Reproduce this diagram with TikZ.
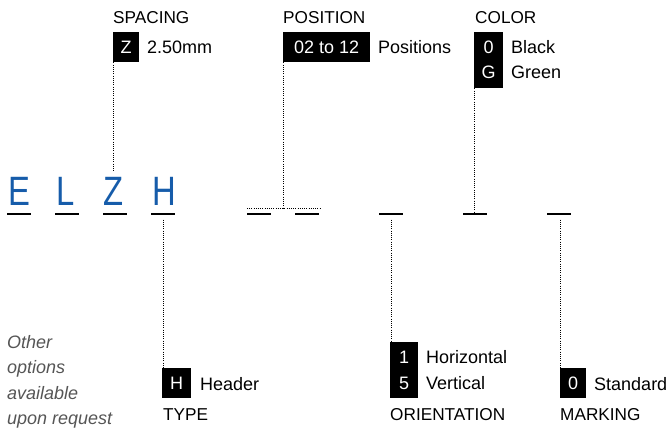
\documentclass[tikz,border=0pt]{standalone}
\usepackage{fontspec}
\setmainfont{Liberation Sans}
\newfontfamily\bigfont[FakeStretch=0.8]{Liberation Sans}
\definecolor{codeblue}{RGB}{22,92,170}
\definecolor{notegray}{RGB}{85,85,85}
\begin{document}
\begin{tikzpicture}[x=1pt,y=-1pt,
  txt/.style={anchor=base west, inner sep=0pt, font=\fontsize{18}{21}\selectfont},
  captxt/.style={anchor=base west, inner sep=0pt, font=\fontsize{17.2}{21}\selectfont},
  note/.style={txt, text=notegray, font=\fontsize{18}{21}\selectfont\itshape},
  code/.style={fill=black, text=white, inner sep=0pt, anchor=north west, font=\fontsize{18}{21}\selectfont},
  codetxt/.style={anchor=base, inner sep=0pt, text=white, font=\fontsize{18}{21}\selectfont},
  big/.style={anchor=base west, inner sep=0pt, text=codeblue, font=\bigfont\fontsize{41}{44}\selectfont},
  uline/.style={fill=black, inner sep=0pt, minimum width=24pt, minimum height=2.2pt, anchor=north west},
  dots/.style={line width=0.8pt, dash pattern=on 0.8pt off 1.4pt}]
\useasboundingbox (0,0) rectangle (671,430);

% top groups
\node[captxt] (spc) at (113,24) {SPACING};
\node[code, minimum width=26pt, minimum height=30pt] (zbox) at (113,32) {Z};
\node[txt] (spcv) at (147,54) {2.50mm};

\node[captxt] (pos) at (283,24) {POSITION};
\node[code, minimum width=87pt, minimum height=30pt] (posbox) at (283,32) {02 to 12};
\node[txt] (posv) at (378,54) {Positions};

\node[captxt] (col) at (475,24) {COLOR};
\node[code, minimum width=29pt, minimum height=56pt] (colbox) at (474,32) {};
\node[codetxt] (c0) at (488.5,54) {0};
\node[codetxt] (cG) at (488.5,79) {G};
\node[txt] (cblack) at (511,54) {Black};
\node[txt] (cgreen) at (511,79) {Green};

% code letters
\node[big] (lE) at (8,206) {E};
\node[big] (lL) at (56,206) {L};
\node[big] (lZ) at (103,206) {Z};
\node[big] (lH) at (152,206) {H};

% underlines
\node[uline] (u1) at (7,213) {};
\node[uline] (u2) at (55,213) {};
\node[uline] (u3) at (103,213) {};
\node[uline] (u4) at (151,213) {};
\node[uline] (u5) at (247,213) {};
\node[uline] (u6) at (295,213) {};
\node[uline] (u7) at (379,213) {};
\node[uline] (u8) at (463,213) {};
\node[uline] (u9) at (547,213) {};

% bottom groups
\node[code, minimum width=29pt, minimum height=30pt] (hbox) at (162,368) {H};
\node[txt] (hv) at (200,390) {Header};
\node[captxt] (type) at (163,420) {TYPE};

\node[code, minimum width=28pt, minimum height=56pt] (obox) at (390,342) {};
\node[codetxt] (o1) at (404,363) {1};
\node[codetxt] (o5) at (404,389) {5};
\node[txt] (oh) at (426,363) {Horizontal};
\node[txt] (ov) at (426,389) {Vertical};
\node[captxt] (ori) at (390,420) {ORIENTATION};

\node[code, minimum width=26pt, minimum height=30pt] (mbox) at (560,368) {0};
\node[txt] (mv) at (594,390) {Standard};
\node[captxt] (mark) at (560,420) {MARKING};

% note
\node[note] (n1) at (7,348) {Other};
\node[note] (n2) at (7,373) {options};
\node[note] (n3) at (7,399) {available};
\node[note] (n4) at (7,424) {upon request};

% connectors
\coordinate (ztop) at (113,171);
\draw[dots] (zbox.south west) -- (ztop);
\coordinate (pl) at (247,208);
\coordinate (pr) at (321,208);
\draw[dots] (pl) -- (pr);
\draw[dots] ([xshift=0.5pt]posbox.south west) -- ([xshift=0.5pt]posbox.south west |- pl);
\draw[dots] ([xshift=0.5pt]colbox.south west) -- ([xshift=0.5pt]colbox.south west |- u8.north);
\draw[dots, shorten <=4pt] (u4.south) -- (u4.south |- hbox.north);
\draw[dots, shorten <=4pt] (u7.south) -- (u7.south |- obox.north);
\draw[dots, shorten <=4pt] ([xshift=1pt]u9.south) -- ([xshift=1pt]u9.south |- mbox.north);
\end{tikzpicture}
\end{document}
